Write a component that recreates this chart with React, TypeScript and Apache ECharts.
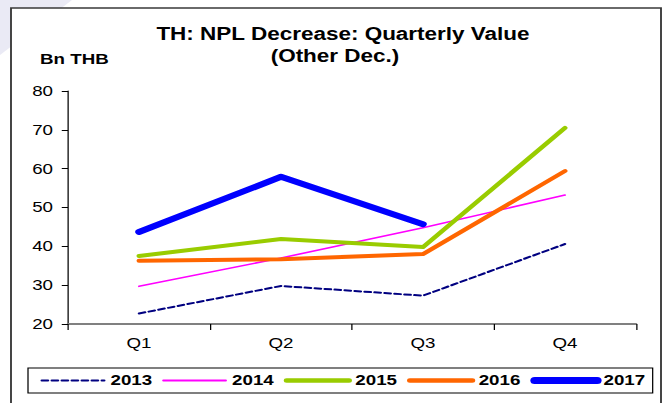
import React, { useEffect, useRef } from "react";
import * as echarts from "echarts";

const categories = ["Q1", "Q2", "Q3", "Q4"];
const seriesNames = ["2013", "2014", "2015", "2016", "2017"];
const v2013 = [22.7, 29.8, 27.3, 40.6];
const v2014 = [29.7, 37.0, 44.8, 53.2];
const v2015 = [37.5, 41.9, 39.8, 70.5];
const v2016 = [36.3, 36.7, 38.0, 59.4];
const v2017 = [43.7, 57.9, 45.7, null];
const titleLine1 = "TH: NPL Decrease: Quarterly Value";
const titleLine2 = "(Other Dec.)";
const unitText = "Bn THB";

const W = 667;
const H = 403;
const SX = 1.25;
const CW = W / SX;
const FONT = "'Liberation Sans', Arial, Helvetica, sans-serif";

const colors: Record<string, string> = {
  "2013": "#000080",
  "2014": "#ff00ff",
  "2015": "#99cc00",
  "2016": "#ff6600",
  "2017": "#0000ff",
};
const widths: Record<string, number> = { "2013": 2, "2014": 1.6, "2015": 4, "2016": 4, "2017": 6 };

export default function App() {
  const ref = useRef<HTMLDivElement>(null);
  useEffect(() => {
    const chart = echarts.init(ref.current!, null, { renderer: "svg", width: CW, height: H });
    const mk = (name: string, data: (number | null)[], type: any = "solid", z = 2) => ({
      name,
      type: "line",
      data,
      symbol: "none",
      z,
      connectNulls: false,
      lineStyle: { color: colors[name], width: widths[name], type, cap: "round", join: "round" },
      itemStyle: { color: colors[name] },
    });
    const titleStyle = { fontSize: 18, fontWeight: "bold", color: "#000", lineHeight: 22, fontFamily: FONT };
    chart.setOption({
      animation: false,
      backgroundColor: "#ffffff",
      textStyle: { fontFamily: FONT },
      title: [
        { text: titleLine1, left: 343 / SX, top: 23, textAlign: "center", padding: 0, textStyle: titleStyle },
        { text: titleLine2, left: 335 / SX, top: 45, textAlign: "center", padding: 0, textStyle: titleStyle },
      ],
      graphic: [
        {
          type: "polygon",
          z: -10,
          shape: { points: [[0, 0], [72 / SX, 0], [0, 55]] },
          style: { fill: "#eaeaf5" },
          silent: true,
        },
        {
          type: "rect",
          z: -5,
          shape: { x: 11 / SX, y: 8, width: 650 / SX, height: 420 },
          style: { fill: "#ffffff", stroke: "#3a3a3a", lineWidth: 1.5 },
          silent: true,
        },
        {
          type: "text",
          left: 32,
          top: 52,
          style: { text: unitText, fontSize: 15, fontWeight: "bold", fill: "#000", font: `bold 15px ${FONT}` },
        },
      ],
      legend: {
        data: seriesNames.map((n) => ({
          name: n,
          itemStyle: { opacity: 0 },
          lineStyle: { width: n === "2017" ? 7 : n === "2014" ? 1.8 : n === "2013" ? 2 : 4.5, color: colors[n], cap: "round" },
        })),
        left: 22.4,
        top: 368,
        orient: "horizontal",
        borderColor: "#000",
        borderWidth: 1,
        padding: [5, 6, 5, 10],
        itemWidth: 50,
        itemHeight: 14,
        itemGap: 8,
        textStyle: { fontSize: 15, fontWeight: "bold", color: "#000", fontFamily: FONT },
      },
      grid: { left: 54.4, right: CW - 508.8, top: 91, bottom: 79 },
      xAxis: {
        type: "category",
        data: categories,
        boundaryGap: true,
        axisLine: { lineStyle: { color: "#808080", width: 2 } },
        axisTick: { show: true, length: 6, inside: false, lineStyle: { color: "#000", width: 1 } },
        axisLabel: { fontSize: 15, color: "#000", margin: 12, fontFamily: FONT },
        splitLine: { show: false },
      },
      yAxis: {
        type: "value",
        min: 20,
        max: 80,
        interval: 10,
        axisLine: { show: true, lineStyle: { color: "#000", width: 1 } },
        axisTick: { show: true, length: 5, lineStyle: { color: "#000" } },
        axisLabel: { fontSize: 15, color: "#000", margin: 12, fontFamily: FONT },
        splitLine: { show: false },
      },
      series: [
        mk("2013", v2013, [5, 3], 2),
        mk("2014", v2014, "solid", 3),
        mk("2015", v2015, "solid", 4),
        mk("2016", v2016, "solid", 5),
        mk("2017", v2017, "solid", 6),
      ],
    });
    return () => chart.dispose();
  }, []);
  return (
    <div style={{ position: "fixed", left: 0, top: 0, width: W, height: H, overflow: "hidden", background: "#fff" }}>
      <div ref={ref} style={{ width: CW, height: H, transform: `scaleX(${SX})`, transformOrigin: "0 0" }} />
    </div>
  );
}
